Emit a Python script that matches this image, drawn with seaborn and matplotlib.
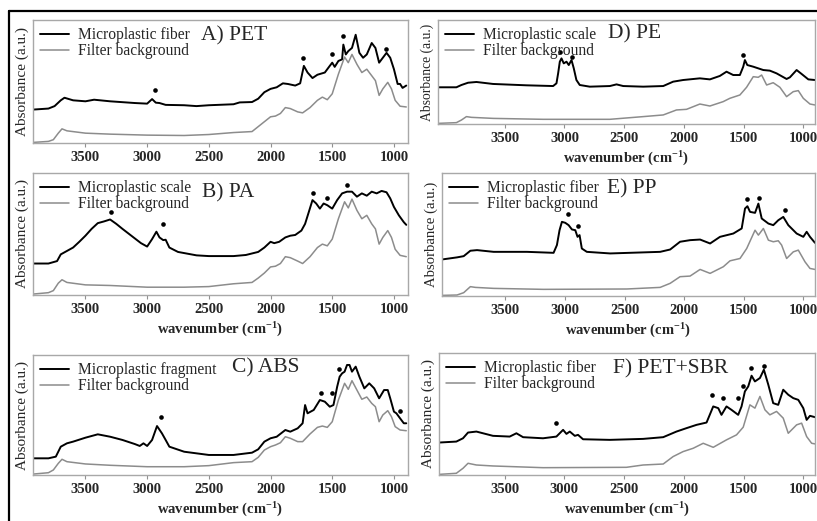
import matplotlib
matplotlib.use("Agg")
import matplotlib.pyplot as plt
import seaborn as sns
from matplotlib.lines import Line2D

sns.set_style("white")
plt.rcParams['font.family'] = ['Liberation Serif', 'DejaVu Serif']
plt.rcParams['mathtext.default'] = 'regular'

# ---------------- data ----------------
titles = ["A) PET", "B) PA", "C) ABS", "D) PE", "E) PP", "F) PET+SBR"]
sample_labels = ["Microplastic fiber", "Microplastic scale", "Microplastic fragment",
                 "Microplastic scale", "Microplastic fiber", "Microplastic fiber"]
bg_label = "Filter background"
xticks = [3500, 3000, 2500, 2000, 1500, 1000]

# left column common grid for filter background
wn_bg_left = [3920, 3800, 3760, 3720, 3690, 3650, 3500, 3300, 3000, 2700, 2500, 2300, 2150, 2100, 2050,
              2000, 1960, 1920, 1880, 1840, 1780, 1740, 1680, 1620, 1580, 1540, 1500, 1450, 1400, 1370,
              1340, 1300, 1260, 1220, 1180, 1150, 1120, 1090, 1050, 1020, 990, 950, 900]

# A) PET
wn_a = [3920, 3800, 3750, 3700, 3670, 3600, 3500, 3430, 3300, 3100, 3000, 2960, 2930, 2900, 2850,
        2700, 2600, 2500, 2300, 2250, 2150, 2100, 2050, 2000, 1950, 1900, 1860, 1800, 1760, 1730,
        1700, 1660, 1620, 1560, 1520, 1500, 1480, 1450, 1420, 1410, 1390, 1370, 1340, 1310, 1280,
        1250, 1220, 1180, 1150, 1120, 1090, 1060, 1030, 1000, 970, 950, 930, 900]
abs_a = [27.2, 28, 30, 34.7, 36.8, 34.7, 33.9, 35.2, 33.9, 32.5, 32, 35.7, 32.8, 32.5, 31,
         30.7, 30, 30.7, 31.5, 33, 33.3, 36, 41.3, 44, 45.3, 48.5, 48, 46.7, 48.5, 62.7,
         57.3, 52.8, 55.5, 57.3, 62.7, 65.3, 61.9, 66.7, 68, 80, 72, 74.7, 77.3, 88, 73.3,
         69.3, 72, 81.3, 77.3, 65.3, 69.3, 73.3, 69.3, 60, 48, 48, 44.8, 46.7]
bg_a = [0.5, 1.3, 2.7, 8, 11.5, 9.9, 8, 7.2, 6.4, 6.1, 6.9, 8.5, 9.3, 13.3, 17.3,
        21.3, 21.9, 24, 28.8, 28, 25.3, 24.5, 28.8, 34.7, 37.3, 35.2, 40, 56, 69.9, 65.3,
        72, 64, 57.3, 60, 54.7, 50.7, 38.7, 44, 49.3, 44, 34.7, 29.9, 29.3]
star_wn_a = [2940, 1735, 1505, 1410, 1067]
star_y_a = [42.7, 69.3, 72, 87.2, 76.8]

# B) PA
wn_b = [3920, 3800, 3730, 3700, 3650, 3600, 3550, 3500, 3450, 3400, 3350, 3300, 3250, 3200, 3100,
        3050, 3000, 2960, 2925, 2900, 2870, 2850, 2820, 2750, 2600, 2500, 2300, 2200, 2100, 2050,
        2000, 1970, 1930, 1880, 1840, 1800, 1750, 1720, 1690, 1660, 1630, 1600, 1570, 1540, 1500,
        1460, 1420, 1380, 1340, 1300, 1260, 1220, 1180, 1140, 1100, 1060, 1030, 1000, 960, 920, 900]
abs_b = [25.8, 25.8, 27.8, 33.3, 36.1, 38.9, 43.6, 48.6, 54.2, 58.9, 60.3, 61.9, 58.3, 54.2, 46.4,
         42.5, 39.7, 45.8, 51.9, 47.2, 45, 45.3, 38.9, 35.3, 32.5, 31.9, 31.9, 32.8, 35.3, 38.9,
         43.6, 42.5, 43.6, 47.2, 48.6, 49.2, 52.8, 58.3, 68, 77.8, 75, 70.8, 75, 73.6, 70.8,
         77.8, 83.3, 84.7, 84.7, 80.6, 83.3, 81.4, 84.7, 83.3, 85.3, 84.2, 79.2, 72.2, 65.3, 59.7, 57.5]
bg_b = [0.8, 1.9, 3.6, 9.7, 12.5, 10.3, 8.3, 7.8, 6.4, 6.4, 6.9, 9.2, 10.3, 13.9, 18,
        23, 23.6, 25.8, 31.4, 30.6, 27.8, 25.8, 31.4, 38.9, 41.7, 40.3, 45.8, 62.5, 76.4, 71.4,
        78.6, 69.4, 62.5, 65.3, 58.3, 54.2, 41.7, 47.2, 52.8, 47.2, 37.5, 32.5, 31.4]
star_wn_b = [3290, 2870, 1655, 1540, 1380]
star_y_b = [68, 58.3, 83.3, 79.7, 90.3]

# C) ABS
wn_c = [3920, 3800, 3740, 3700, 3650, 3600, 3500, 3400, 3300, 3200, 3100, 3060, 3030, 3000, 2960,
        2920, 2880, 2850, 2820, 2700, 2500, 2300, 2150, 2100, 2050, 2000, 1950, 1880, 1840, 1780,
        1740, 1720, 1700, 1650, 1600, 1560, 1520, 1490, 1460, 1440, 1420, 1400, 1380, 1360, 1340,
        1310, 1280, 1240, 1200, 1160, 1120, 1080, 1050, 1030, 1000, 980, 950, 920, 900]
abs_c = [13.9, 13.9, 15.3, 23.6, 26.4, 27.8, 31.1, 33.9, 31.9, 29.2, 25.8, 24.2, 26.4, 24.2, 29.2,
         40.8, 34.7, 29.2, 23.6, 19.4, 16.7, 16.7, 18.6, 21.4, 27.8, 30.6, 31.9, 37.5, 36.1, 38.9,
         43.1, 58.3, 51.4, 54.2, 62.5, 61.1, 56.9, 58.3, 73.6, 81.9, 84.7, 86.1, 91.7, 91.7, 86.1,
         90.3, 81.9, 72.2, 76.4, 72.2, 63.9, 70.8, 70.8, 63.9, 52.8, 51.4, 47.2, 43.1, 43.1]
bg_c = [0.8, 1.9, 4.2, 9.7, 13.1, 11.1, 9.2, 8.1, 6.9, 6.9, 7.8, 10.3, 11.1, 14.7, 20.8,
        23.6, 25, 26.9, 31.9, 30.6, 27.8, 27.8, 34.2, 39.7, 40.8, 39.7, 44.4, 62.5, 76.4, 71.4,
        78.6, 70.8, 63.1, 65, 59.7, 56.9, 44.4, 50, 53.6, 48.6, 40.3, 37.5, 36.9]
star_wn_c = [2890, 1595, 1505, 1445, 950]
star_y_c = [48, 68, 68.6, 88, 53.3]

# D) PE
wn_d = [4059, 3905, 3863, 3807, 3737, 3598, 3318, 3095, 3067, 3053, 3039, 3025, 3006, 2983, 2964,
        2941, 2922, 2900, 2872, 2788, 2620, 2564, 2508, 2341, 2173, 2090, 2006, 1866, 1782, 1699,
        1643, 1587, 1531, 1503, 1489, 1469, 1419, 1335, 1280, 1224, 1140, 1112, 1056, 1014, 958, 902]
abs_d = [35.3, 35.3, 37.5, 39.7, 40.4, 38.5, 37.2, 36.5, 39.1, 48.7, 59.9, 63.1, 58.3, 59.9, 56.7,
         61.5, 53.5, 42.3, 37.5, 35.9, 36.5, 38.1, 36.5, 35.9, 36.5, 40.7, 42.3, 43.9, 42.9, 46.2,
         50.3, 47.1, 47.1, 55.1, 61.5, 56.7, 55.1, 51.9, 51.3, 48.7, 43.3, 44.9, 51.9, 48.1, 42.9, 42.3]
wn_bg_d = [4059, 3905, 3863, 3821, 3779, 3598, 3179, 2620, 2341, 2173, 2062, 1978, 1866, 1782, 1671,
           1615, 1531, 1475, 1419, 1377, 1349, 1307, 1252, 1196, 1140, 1084, 1042, 1000, 944, 902]
bg_d = [0.6, 1.3, 3.8, 7.1, 6.4, 5.4, 4.5, 4.5, 7.1, 8.7, 13.5, 14.1, 19.2, 17.3, 21.5,
        24.7, 27.9, 35.3, 45.5, 44.9, 47.1, 37.5, 39.7, 35.3, 26.3, 31.1, 32.1, 24.7, 19.2, 18.3]
star_wn_d = [3034, 2941, 1503]
star_y_d = [69.6, 64.7, 66.3]

# E) PP
wn_e = [4031, 3905, 3849, 3793, 3737, 3598, 3318, 3095, 3067, 3045, 3025, 2997, 2969, 2941, 2913,
        2894, 2877, 2858, 2816, 2620, 2201, 2117, 2034, 1950, 1866, 1782, 1699, 1587, 1517, 1489,
        1469, 1447, 1405, 1377, 1349, 1293, 1252, 1210, 1168, 1126, 1056, 1000, 972, 944, 902]
abs_e = [29.7, 31.4, 32.4, 36.8, 37.3, 35.9, 35.9, 35.1, 41.4, 53.5, 60.3, 59.5, 57.6, 54.1, 53.5,
         48.1, 49.5, 38.6, 35.9, 34.6, 35.9, 37.8, 44.1, 45.4, 45.9, 42.7, 48.1, 50.8, 54.9, 71.1,
         73, 68.4, 67.6, 75.1, 63, 58.9, 57.6, 61.6, 64.3, 57.6, 50.8, 48.1, 52.2, 48.1, 43.2]
wn_bg_e = [4031, 3905, 3849, 3793, 3751, 3598, 3179, 2481, 2201, 2117, 2034, 1950, 1866, 1782, 1671,
           1615, 1531, 1475, 1405, 1377, 1335, 1293, 1252, 1210, 1182, 1140, 1084, 1042, 986, 944, 902]
bg_e = [0.5, 0.8, 2.7, 7.6, 7, 6.2, 5.4, 5.7, 7, 10.3, 15.7, 16.2, 21.6, 18.4, 23.8,
        28.6, 30.5, 38.6, 53.5, 49.5, 54.9, 45.4, 44.1, 44.9, 41.4, 30.5, 35.9, 37.3, 27.8, 22.4, 21.6]
star_wn_e = [2978, 2886, 1475, 1369, 1154]
star_y_e = [66.5, 56.8, 79.2, 80, 70.3]

# F) PET+SBR
wn_f = [4050, 3905, 3849, 3807, 3737, 3598, 3458, 3402, 3346, 3179, 3067, 3011, 2983, 2955, 2913,
        2886, 2844, 2620, 2341, 2173, 2062, 1978, 1894, 1810, 1754, 1712, 1685, 1643, 1601, 1545,
        1517, 1489, 1461, 1433, 1405, 1363, 1330, 1293, 1252, 1210, 1168, 1126, 1084, 1042, 1000,
        972, 944, 902]
abs_f = [26.6, 27.4, 30.1, 34.8, 35.6, 32.1, 31.5, 34.2, 31, 30.1, 31.5, 37, 33.7, 35.6, 32.1,
         32.9, 29.3, 28.8, 29.6, 31, 35.6, 38.4, 41.1, 43, 56.2, 54.8, 49.3, 56.2, 53.4, 49.3,
         56.2, 68.5, 72.6, 81.4, 76.7, 79.5, 86.3, 74, 58.9, 57.5, 69.9, 65.8, 63, 61.6, 54.8,
         45.2, 48.5, 47.4]
wn_bg_f = [4050, 3905, 3849, 3807, 3737, 3598, 3179, 2481, 2341, 2173, 2090, 2006, 1922, 1838, 1754,
           1643, 1559, 1503, 1447, 1405, 1363, 1321, 1280, 1224, 1168, 1126, 1056, 1014, 972, 930, 902]
bg_f = [0.5, 1.4, 5.5, 9.6, 8.2, 7.4, 6, 6.3, 8.2, 9, 15.1, 19.2, 21.9, 26, 22.7,
        28.8, 32.9, 39.2, 57.5, 54.8, 64.4, 53.4, 49.3, 52.1, 46.6, 34.2, 41.1, 42.5, 31.5, 26, 25.5]
star_wn_f = [3067, 1768, 1676, 1545, 1503, 1442, 1330]
star_y_f = [42.5, 65.8, 63, 63, 73.2, 87.7, 89.6]

# ---------------- layout ----------------
W, H = 817, 521
fig = plt.figure(figsize=(W / 100, H / 100), dpi=100)
fig.patch.set_facecolor("white")

def rect(l, t, r, b):
    return [l / W, 1 - b / H, (r - l) / W, (b - t) / H]

panels = [
    dict(r=rect(33, 20, 408, 143), wn=wn_a, y=abs_a, bwn=wn_bg_left, by=bg_a, swn=star_wn_a, sy=star_y_a,
         xlim=(3925, 886), xlabel=False, tpos=(0.448, 0.875), ylfs=11),
    dict(r=rect(33, 173, 408, 295), wn=wn_b, y=abs_b, bwn=wn_bg_left, by=bg_b, swn=star_wn_b, sy=star_y_b,
         xlim=(3925, 886), xlabel=True, tpos=(0.452, 0.835), ylfs=11),
    dict(r=rect(33, 355, 408, 475), wn=wn_c, y=abs_c, bwn=wn_bg_left, by=bg_c, swn=star_wn_c, sy=star_y_c,
         xlim=(3925, 886), xlabel=True, tpos=(0.53, 0.89), ylfs=11),
    dict(r=rect(438, 20, 815, 124), wn=wn_d, y=abs_d, bwn=wn_bg_d, by=bg_d, swn=star_wn_d, sy=star_y_d,
         xlim=(4059, 902), xlabel=True, tpos=(0.452, 0.865), ylfs=9.8),
    dict(r=rect(442, 173, 815, 296), wn=wn_e, y=abs_e, bwn=wn_bg_e, by=bg_e, swn=star_wn_e, sy=star_y_e,
         xlim=(4031, 902), xlabel=True, tpos=(0.442, 0.87), ylfs=10.6),
    dict(r=rect(439, 353, 815, 475), wn=wn_f, y=abs_f, bwn=wn_bg_f, by=bg_f, swn=star_wn_f, sy=star_y_f,
         xlim=(4050, 902), xlabel=True, tpos=(0.463, 0.87), ylfs=11),
]

for i, p in enumerate(panels):
    ax = fig.add_axes(p["r"])
    sns.lineplot(x=p["wn"], y=p["y"], ax=ax, color="black", lw=1.4, sort=False,
                 estimator=None, label=sample_labels[i])
    sns.lineplot(x=p["bwn"], y=p["by"], ax=ax, color="#8c8c8c", lw=1.1, sort=False,
                 estimator=None, label=bg_label)
    ax.scatter(p["swn"], p["sy"], s=11, color="black", zorder=5, linewidths=0)
    ax.set_xlim(*p["xlim"])
    ax.set_ylim(0, 100)
    ax.set_yticks([])
    ax.set_xticks(xticks)
    ax.set_xticklabels([str(t) for t in xticks], fontsize=10.5, fontweight="bold")
    ax.tick_params(axis="x", direction="out", length=3, width=0.8, color="#909090", pad=2.5,
                   bottom=True)
    for s in ax.spines.values():
        s.set_color("#a8a8a8")
        s.set_linewidth(1.0)
    ax.set_ylabel("Absorbance (a.u.)", fontsize=p["ylfs"], labelpad=3)
    if p["xlabel"]:
        ax.set_xlabel("wavenumber (cm$^{-1}$)", fontsize=10.5, fontweight="bold", labelpad=4)
    else:
        ax.set_xlabel("")
    ax.text(p["tpos"][0], p["tpos"][1], titles[i], transform=ax.transAxes, fontsize=15.5,
            ha="left", va="center")
    ax.legend(loc="upper left", frameon=False, fontsize=11.2, handlelength=1.85,
              handletextpad=0.6, labelspacing=0.0, borderaxespad=0.2, borderpad=0.25)

# outer frame (top and left edges)
fig.add_artist(Line2D([9 / W, 9 / W], [0, 1 - 11 / H], transform=fig.transFigure, color="black", lw=1.6))
fig.add_artist(Line2D([9 / W, 1], [1 - 11 / H, 1 - 11 / H], transform=fig.transFigure, color="black", lw=1.6))

fig.savefig("out.png", dpi=100)
